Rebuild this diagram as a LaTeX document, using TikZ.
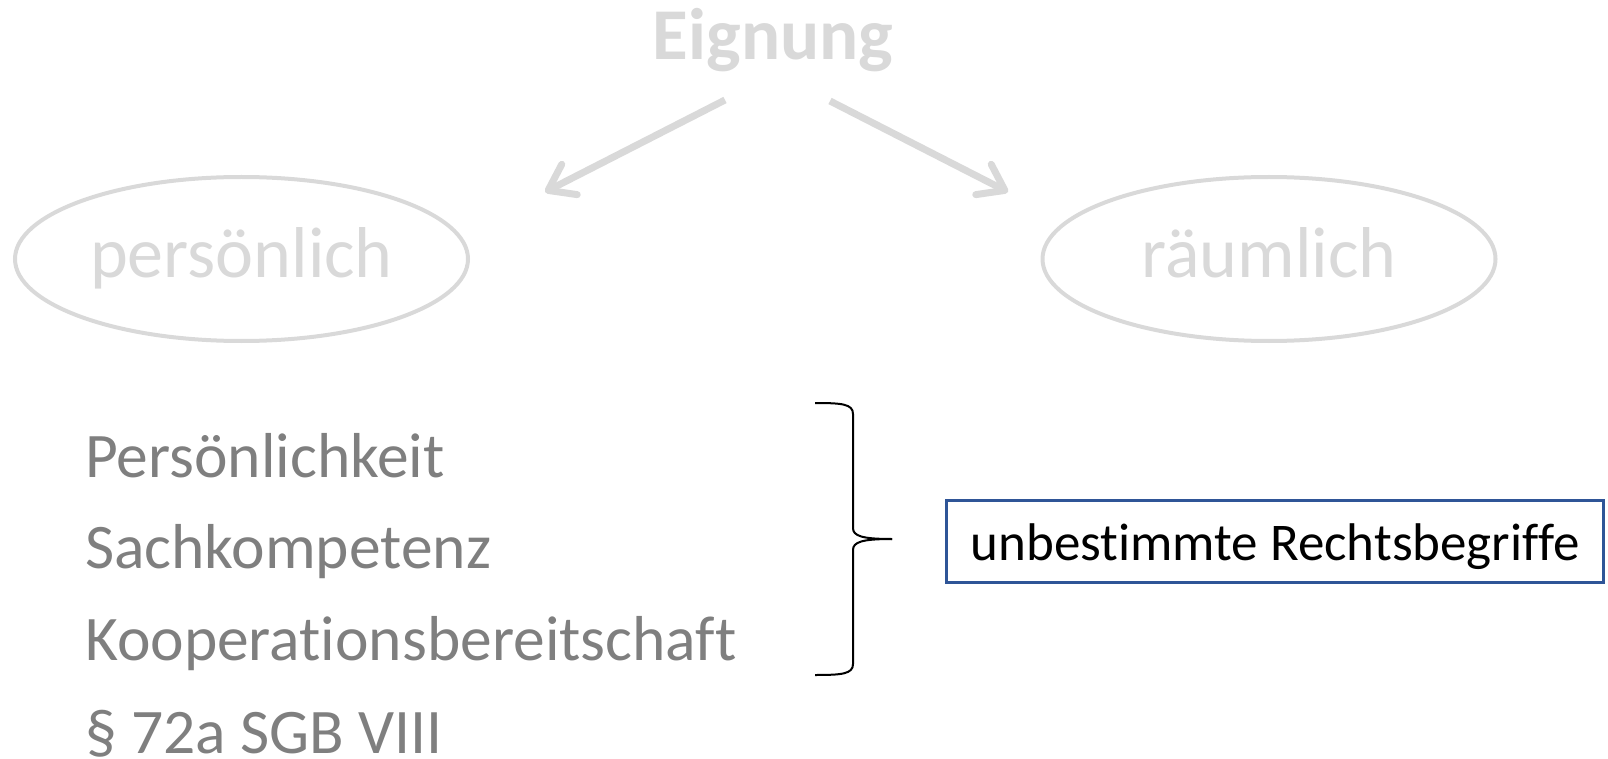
\documentclass[tikz,border=0pt]{standalone}
\usepackage{fontspec}
\setmainfont{Carlito}[Ligatures={NoCommon,NoContextual}]
\usetikzlibrary{arrows.meta,shapes.geometric}

\definecolor{lightgrey}{HTML}{D9D9D9}
\definecolor{midgrey}{HTML}{7F7F7F}
\definecolor{boxblue}{RGB}{47,85,151}

\tikzset{
  title/.style={font=\fontsize{73}{88}\selectfont\bfseries, text=lightgrey, anchor=base, inner sep=0},
  branch/.style={ellipse, draw=lightgrey, line width=4pt, text=lightgrey,
    minimum width=453pt, minimum height=164pt, inner sep=0,
    font=\fontsize{72}{86}\selectfont, text height=48pt, text depth=12pt},
  criterion/.style={font=\fontsize{63.5}{76}\selectfont, text=midgrey, anchor=base west, inner sep=0},
  termbox/.style={rectangle, draw=boxblue, line width=3pt, minimum width=657pt, minimum height=82pt,
    inner sep=0, font=\fontsize{53}{64}\selectfont, text=black, text height=37pt, text depth=0pt},
  splitarrow/.style={draw=lightgrey, line width=7pt,
    -{Straight Barb[length=24pt, width=34pt, round]}},
  bracket/.style={draw=black, line width=2pt}
}

\begin{document}
\begin{tikzpicture}[x=1pt, y=-1pt]
  \useasboundingbox (0,0) rectangle (1608,759);

  % heading and its two branches
  \node[title] (eignung) at (773,60) {Eignung};
  \node[branch] (pers) at (241.5,259) {persönlich};
  \node[branch] (raum) at (1269,259) {räumlich};

  \coordinate (lstart) at (725,100);
  \coordinate (lend) at (545,192);
  \coordinate (rstart) at (830,101);
  \coordinate (rend) at (1008,192);
  \draw[splitarrow] (lstart) -- (lend);
  \draw[splitarrow] (rstart) -- (rend);

  % list of criteria
  \node[criterion] (c1) at (85,477) {Persönlichkeit};
  \node[criterion] (c2) at (85,568) {Sachkompetenz};
  \node[criterion] (c3) at (85,660) {Kooperationsbereitschaft};
  \node[criterion] (c4) at (85,753) {§ 72a SGB VIII};

  % curly bracket grouping the first three criteria
  \coordinate (btip) at (892,539);
  \draw[bracket] (815,403) .. controls (842,403) and (853,404) .. (853,414)
    -- (853,528) .. controls (853,536) and (862,539) .. (btip);
  \draw[bracket] (btip) .. controls (862,539) and (853,542) .. (853,550)
    -- (853,664) .. controls (853,674) and (842,675) .. (815,675);

  \node[termbox] (term) at (1275,541.5) {unbestimmte Rechtsbegriffe};
\end{tikzpicture}
\end{document}
